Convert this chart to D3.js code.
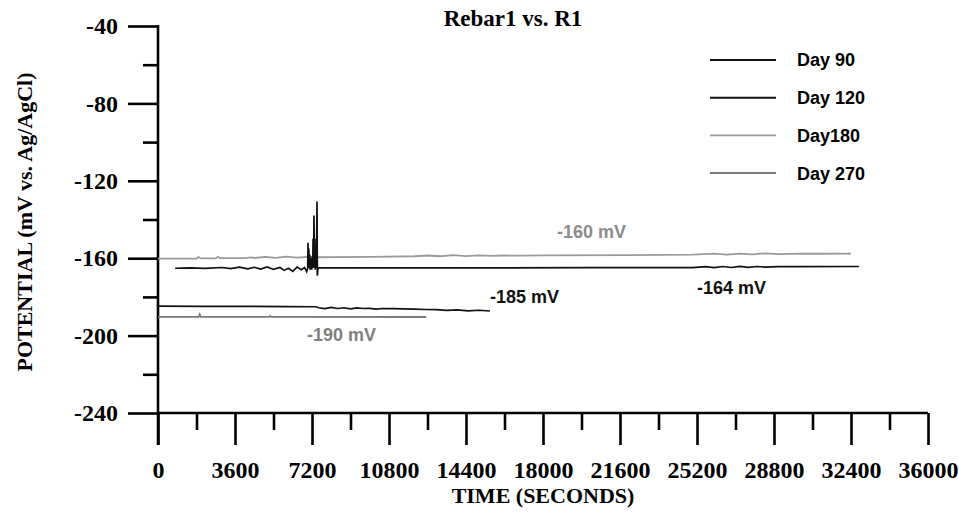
<!DOCTYPE html>
<html>
<head>
<meta charset="utf-8">
<script src="https://cdn.jsdelivr.net/npm/d3@7"></script>
<style>
  body { margin: 0; background: #fff; }
  svg text { font-family: "Liberation Serif", "Times New Roman", serif; font-weight: bold; }
  .sans { font-family: "Liberation Sans", Arial, sans-serif !important; }
</style>
</head>
<body>
<div id="chart"></div>
<script>
// tick values
const yMajor = [-40, -80, -120, -160, -200, -240];
const yMinor = [-60, -100, -140, -180, -220];
const xMajor = [0, 3600, 7200, 10800, 14400, 18000, 21600, 25200, 28800, 32400, 36000];
const xMinor = [1800, 5400, 9000, 12600, 16200, 19800, 23400, 27000, 30600, 34200];

// series (time in s, potential in mV)
const day90Time = [0, 2000, 4000, 6000, 7400, 7500, 7800, 8100, 8400, 8700, 9000, 9300, 9600, 9900, 10200, 10500, 11000, 11500, 12000, 12500, 13000, 13500, 14000, 14500, 15000, 15520];
const day90Val  = [-184.8, -184.9, -184.9, -185.0, -185.1, -185.6, -186.1, -185.4, -186.0, -185.6, -186.2, -185.7, -186.0, -185.9, -186.3, -186.0, -186.1, -186.2, -186.3, -186.5, -186.6, -187.0, -186.7, -187.2, -186.9, -187.3];

const day120Time = [800, 1500, 2200, 3000, 3400, 3800, 4200, 4500, 4800, 5100, 5400, 5700, 5900, 6100, 6300, 6500, 6700, 6850, 6950, 7000, 7013, 7030, 7050, 7070, 7090, 7110, 7130, 7150, 7170, 7190, 7210, 7230, 7250, 7270, 7293, 7310, 7330, 7350, 7370, 7390, 7410, 7434, 7450, 7480, 7600, 10000, 15000, 20000, 25000, 25600, 26000, 26400, 26800, 27200, 27600, 28000, 28400, 29000, 30000, 32770];
const day120Val  = [-165.2, -165.0, -165.3, -164.8, -165.4, -164.6, -165.5, -164.7, -165.6, -164.5, -165.8, -164.8, -166.3, -165.2, -166.8, -164.6, -166.0, -164.8, -167.0, -165.0, -152.0, -163.0, -155.0, -165.0, -158.0, -166.0, -160.0, -165.5, -161.0, -166.0, -159.0, -165.0, -150.0, -164.0, -138.0, -165.0, -150.0, -166.0, -158.0, -165.0, -160.0, -130.7, -169.0, -165.0, -165.0, -165.0, -165.0, -164.9, -164.9, -164.4, -164.9, -164.3, -164.8, -164.2, -164.7, -164.3, -164.6, -164.4, -164.4, -164.3];

const day180Time = [0, 1800, 1900, 2000, 2700, 2800, 2900, 4000, 4400, 4500, 5000, 5500, 6000, 6500, 7000, 7400, 10000, 12000, 12600, 13200, 13800, 14400, 15000, 15600, 16200, 17000, 18000, 22000, 25000, 26000, 26600, 27200, 27800, 28400, 29000, 30000, 31000, 32400];
const day180Val  = [-160.2, -160.2, -159.4, -160.1, -160.1, -159.3, -160.0, -160.0, -159.6, -159.9, -159.3, -159.8, -159.2, -159.7, -159.3, -159.5, -159.3, -159.0, -158.6, -159.0, -158.4, -158.9, -158.5, -158.8, -158.6, -158.7, -158.5, -158.4, -158.2, -157.6, -158.1, -157.6, -158.0, -157.5, -157.9, -157.6, -157.7, -157.6];

const day270Time = [0, 1900, 1950, 2000, 5200, 5250, 5300, 12540];
const day270Val  = [-190.3, -190.3, -189.0, -190.3, -190.3, -189.8, -190.3, -190.4];

const seriesNames  = ["Day 90", "Day 120", "Day180", "Day 270"];
const seriesColors = ["#111", "#111", "#9a9a9a", "#7a7a7a"];

const annotations = [
  { text: "-160 mV", t: 18655, v: -146.5, color: "#8c8c8c" },
  { text: "-164 mV", t: 25200, v: -175.4, color: "#111" },
  { text: "-185 mV", t: 15520, v: -180.1, color: "#111" },
  { text: "-190 mV", t: 6966, v: -199.7, color: "#808080" }
];

const width = 959, height = 512;
const svg = d3.select("#chart").append("svg")
  .attr("width", width).attr("height", height);

const x = d3.scaleLinear().domain([0, 36000]).range([158, 928]);
const y = d3.scaleLinear().domain([-240, -40]).range([413, 26]);

// axes
function styleAxis(g) {
  g.select(".domain").remove();
  g.selectAll(".tick line").attr("stroke", "#000").attr("stroke-width", 2.6);
  g.selectAll(".tick text").attr("fill", "#000").style("font-size", "24px");
}
const fmt = d => String(d);

svg.append("g")
  .attr("transform", `translate(${x(0)},0)`)
  .call(d3.axisLeft(y).tickValues(yMajor).tickSize(30).tickPadding(10).tickFormat(fmt))
  .call(styleAxis);
svg.append("g")
  .attr("transform", `translate(${x(0)},0)`)
  .call(d3.axisLeft(y).tickValues(yMinor).tickSize(15).tickFormat(""))
  .call(styleAxis);

svg.append("g")
  .attr("transform", `translate(0,${y(-240)})`)
  .call(d3.axisBottom(x).tickValues(xMajor).tickSize(32).tickPadding(16).tickFormat(fmt))
  .call(styleAxis);
svg.append("g")
  .attr("transform", `translate(0,${y(-240)})`)
  .call(d3.axisBottom(x).tickValues(xMinor).tickSize(17).tickFormat(""))
  .call(styleAxis);

// axis lines
svg.append("line")
  .attr("x1", x(0)).attr("x2", x(0))
  .attr("y1", y(-40) - 1).attr("y2", y(-240) + 32)
  .attr("stroke", "#000").attr("stroke-width", 2.6);
svg.append("line")
  .attr("x1", x(0)).attr("x2", x(36000))
  .attr("y1", y(-240)).attr("y2", y(-240))
  .attr("stroke", "#000").attr("stroke-width", 2.6);

// data lines
const line = d3.line().x(d => x(d[0])).y(d => y(d[1]));
const allSeries = [
  d3.zip(day90Time, day90Val),
  d3.zip(day120Time, day120Val),
  d3.zip(day180Time, day180Val),
  d3.zip(day270Time, day270Val)
];
const drawOrder = [3, 0, 2, 1];
drawOrder.forEach(i => {
  svg.append("path")
    .datum(allSeries[i])
    .attr("fill", "none")
    .attr("stroke", seriesColors[i])
    .attr("stroke-width", i >= 2 ? 1.8 : 1.7)
    .attr("d", line);
});

// annotations
annotations.forEach(a => {
  svg.append("text")
    .attr("class", "sans")
    .attr("x", x(a.t)).attr("y", y(a.v))
    .attr("dy", "0.35em")
    .attr("fill", a.color)
    .style("font-size", "18px")
    .text(a.text);
});

// legend
const legend = svg.append("g");
seriesNames.forEach((name, i) => {
  const ly = 60 + i * 37.7;
  legend.append("line")
    .attr("x1", 710).attr("x2", 776)
    .attr("y1", ly).attr("y2", ly)
    .attr("stroke", seriesColors[i])
    .attr("stroke-width", i === 2 ? 1.6 : 2);
  legend.append("text")
    .attr("class", "sans")
    .attr("x", 797).attr("y", ly)
    .attr("dy", "0.36em")
    .style("font-size", "18px")
    .text(name);
});

// titles
svg.append("text")
  .attr("x", 513).attr("y", 26)
  .attr("text-anchor", "middle")
  .style("font-size", "23px")
  .text("Rebar1 vs. R1");

svg.append("text")
  .attr("x", 543).attr("y", 503)
  .attr("text-anchor", "middle")
  .style("font-size", "22px")
  .text("TIME (SECONDS)");

svg.append("text")
  .attr("transform", `translate(32,222) rotate(-90)`)
  .attr("text-anchor", "middle")
  .style("font-size", "22px")
  .text("POTENTIAL (mV vs. Ag/AgCl)");
</script>
</body>
</html>
